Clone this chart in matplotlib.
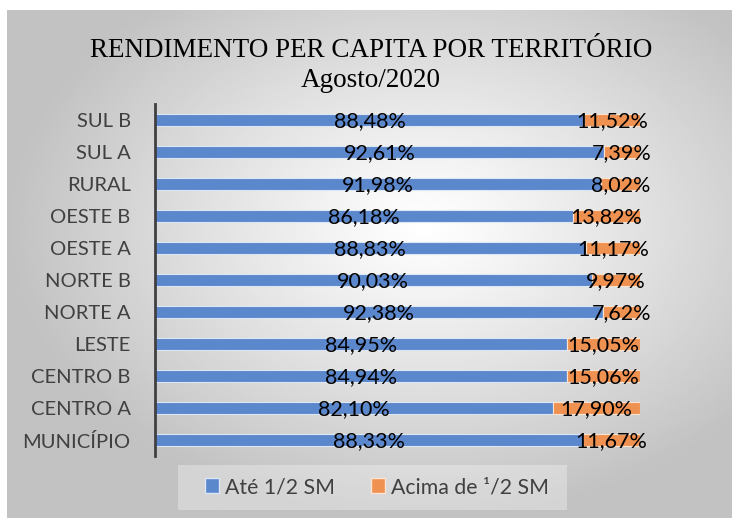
import numpy as np
import matplotlib
matplotlib.use("Agg")
import matplotlib.pyplot as plt
from matplotlib.patches import Rectangle, Patch

# dados (de cima para baixo)
territorios = ["SUL B", "SUL A", "RURAL", "OESTE B", "OESTE A", "NORTE B",
               "NORTE A", "LESTE", "CENTRO B", "CENTRO A", "MUNICÍPIO"]
ate_meio = [88.48, 92.61, 91.98, 86.18, 88.83, 90.03, 92.38, 84.95, 84.94, 82.10, 88.33]
acima_meio = [11.52, 7.39, 8.02, 13.82, 11.17, 9.97, 7.62, 15.05, 15.06, 17.90, 11.67]
series = ["Até 1/2 SM", "Acima de ¹/2 SM"]

azul = "#5B87CC"
laranja = "#EF9150"
W, H = 732, 519

fig = plt.figure(figsize=(W / 100, H / 100), dpi=100)
fig.patch.set_facecolor("white")

# fundo com gradiente radial
bg = fig.add_axes([7 / W, 1 / H, 725 / W, 508 / H])
gx, gy = np.meshgrid(np.linspace(-1, 1, 400), np.linspace(-1, 1, 300))
r = np.sqrt((gx - 0.15) ** 2 + (gy + 0.15) ** 2)
val = 1.0 - 0.24 * np.clip(r / 1.15, 0, 1) ** 1.1
bg.imshow(val, cmap="gray", vmin=0, vmax=1, aspect="auto",
          extent=[0, 1, 0, 1], interpolation="bilinear")
bg.set_axis_off()

ax = fig.add_axes([155 / W, 1 - 456 / H, 485 / W, 352 / H])
ax.patch.set_alpha(0)
y = np.arange(len(territorios))
ax.barh(y, ate_meio, height=0.4, color=azul, edgecolor="#DCE6F5", linewidth=0.8)
ax.barh(y, acima_meio, left=ate_meio, height=0.4, color=laranja,
        edgecolor="#FBE3D2", linewidth=0.8)

fmt = lambda v: f"{v:.2f}%".replace(".", ",")
for i in range(len(territorios)):
    ax.text(ate_meio[i] / 2, i + 0.03, fmt(ate_meio[i]), ha="center", va="center",
            fontsize=15.5, family="Lato", color="black")
    ax.text(ate_meio[i] + acima_meio[i] / 2, i + 0.03, fmt(acima_meio[i]), ha="center",
            va="center", fontsize=15.5, family="Lato", color="black")

ax.set_xlim(0, 100)
ax.set_ylim(-0.5, len(territorios) - 0.5)
ax.invert_yaxis()
ax.set_yticks(y)
ax.set_yticklabels(territorios, family="Lato", fontsize=14.5, color="#404040")
ax.tick_params(axis="y", length=0, pad=17.5)
ax.set_xticks([])
for s in ["top", "right", "bottom"]:
    ax.spines[s].set_visible(False)
ax.spines["left"].set_color("#404040")
ax.spines["left"].set_linewidth(2)

fig.text(371 / W, 1 - 57 / H, "RENDIMENTO PER CAPITA POR TERRITÓRIO", ha="center",
         va="baseline", family="Liberation Serif", fontsize=19.5)
fig.text(371 / W, 1 - 87 / H, "Agosto/2020", ha="center", va="baseline",
         family="Liberation Serif", fontsize=19.5)

# legenda
fig.patches.append(Rectangle((178 / W, 1 - 510 / H), 389 / W, 45 / H,
                             transform=fig.transFigure, facecolor="white",
                             alpha=0.3, edgecolor="none"))
handles = [Patch(facecolor=azul, edgecolor="#DCE6F5"),
           Patch(facecolor=laranja, edgecolor="#FBE3D2")]
leg = fig.legend(handles, series, loc="center", bbox_to_anchor=(377 / W, 1 - 487 / H),
                 ncol=2, frameon=False, handlelength=0.65, handleheight=0.65,
                 handletextpad=0.3, columnspacing=1.7,
                 prop={"family": "Lato", "size": 15.3})
for t in leg.get_texts():
    t.set_color("#404040")

fig.savefig("out.png", dpi=100)
